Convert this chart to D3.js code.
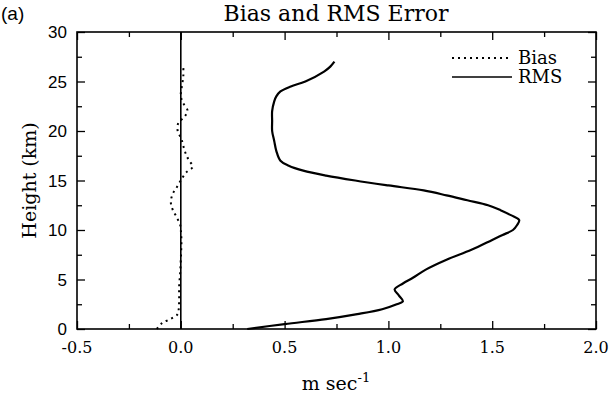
<!DOCTYPE html>
<html>
<head>
<meta charset="utf-8">
<script src="https://cdn.jsdelivr.net/npm/d3@7"></script>
<style>
  body { margin: 0; background: #fff; }
  svg { display: block; }
</style>
</head>
<body>
<div id="chart"></div>
<script>
var width = 613;
var height = 402;

// RMS error profile: height (km) and value (m/s)
var rmsHeight = [0.0, 0.5, 1.0, 1.5, 2.0, 2.5, 2.8, 3.4, 4.0, 4.6, 5.2, 6.0, 7.0, 8.0, 9.0, 9.5, 10.0, 10.5, 11.0, 11.5, 12.0, 12.5, 13.0, 13.5, 14.0, 14.5, 15.0, 15.5, 16.0, 16.5, 17.0, 18.0, 19.0, 20.0, 21.0, 22.0, 23.0, 23.5, 24.0, 24.5, 25.0, 26.0, 26.5, 27.0];
var rmsValue  = [0.32, 0.50, 0.70, 0.85, 0.97, 1.04, 1.07, 1.05, 1.03, 1.07, 1.12, 1.18, 1.28, 1.40, 1.50, 1.55, 1.60, 1.62, 1.63, 1.59, 1.54, 1.48, 1.38, 1.28, 1.17, 1.00, 0.84, 0.70, 0.59, 0.52, 0.48, 0.46, 0.45, 0.44, 0.44, 0.44, 0.45, 0.46, 0.48, 0.53, 0.60, 0.69, 0.72, 0.74];

// Bias profile
var biasHeight = [0.0, 0.6, 1.0, 1.5, 2.0, 3.0, 4.3, 5.7, 7.0, 9.0, 10.0, 10.5, 11.3, 12.1, 12.8, 13.6, 14.3, 15.0, 15.8, 16.4, 17.0, 17.7, 18.5, 19.2, 20.0, 20.8, 21.5, 22.1, 22.8, 23.5, 24.5, 25.5, 26.5];
var biasValue  = [-0.115, -0.09, -0.05, -0.015, -0.01, -0.008, -0.008, -0.003, 0.0, 0.003, 0.0, -0.003, -0.02, -0.04, -0.048, -0.04, -0.02, 0.0, 0.025, 0.058, 0.04, 0.024, 0.012, 0.003, -0.015, -0.012, 0.02, 0.032, 0.012, 0.0, 0.005, 0.012, 0.012];

var xMajor = [-0.5, 0.0, 0.5, 1.0, 1.5, 2.0];
var xMinor = [-0.25, 0.25, 0.75, 1.25, 1.75];
var yMajor = [0, 5, 10, 15, 20, 25, 30];
var yMinor = [2.5, 7.5, 12.5, 17.5, 22.5, 27.5];
var legendNames = ["Bias", "RMS"];

// plot box (note: "top" is reserved by the window object)
var pLeft = 77, pRight = 596, pTop = 32, pBottom = 329;
var serif = "'DejaVu Serif', serif";
var sans = "'Liberation Sans', Arial, sans-serif";

var svg = d3.select("#chart").append("svg")
    .attr("width", width)
    .attr("height", height);

var x = d3.scaleLinear().domain([-0.5, 2.0]).range([pLeft, pRight]);
var y = d3.scaleLinear().domain([0, 30]).range([pBottom, pTop]);

// ticks pointing inward on all four sides
function addAxis(axis, tx, ty, vals, size) {
  var g = svg.append("g")
    .attr("transform", "translate(" + tx + "," + ty + ")")
    .call(axis.tickValues(vals).tickSize(size).tickFormat(""));
  g.select(".domain").remove();
  g.selectAll("line").attr("stroke", "#000").attr("stroke-width", 1.3);
}
addAxis(d3.axisBottom(x), 0, pBottom, xMajor, -8);
addAxis(d3.axisBottom(x), 0, pBottom, xMinor, -5);
addAxis(d3.axisTop(x), 0, pTop, xMajor, -8);
addAxis(d3.axisTop(x), 0, pTop, xMinor, -5);
addAxis(d3.axisLeft(y), pLeft, 0, yMajor, -8);
addAxis(d3.axisLeft(y), pLeft, 0, yMinor, -5);
addAxis(d3.axisRight(y), pRight, 0, yMajor, -8);
addAxis(d3.axisRight(y), pRight, 0, yMinor, -5);

// frame
svg.append("rect")
  .attr("x", pLeft).attr("y", pTop)
  .attr("width", pRight - pLeft).attr("height", pBottom - pTop)
  .attr("fill", "none").attr("stroke", "#000").attr("stroke-width", 1.6);

// tick labels
svg.selectAll("text.xl").data(xMajor).enter().append("text")
  .attr("class", "xl")
  .attr("x", d => x(d))
  .attr("y", pBottom + 24)
  .attr("text-anchor", "middle")
  .style("font-family", serif).style("font-size", "16px")
  .text(d => d.toFixed(1));

svg.selectAll("text.yl").data(yMajor).enter().append("text")
  .attr("class", "yl")
  .attr("x", pLeft - 10)
  .attr("y", d => y(d) + 6)
  .attr("text-anchor", "end")
  .style("font-family", sans).style("font-size", "17px")
  .text(d => d);

// zero line
svg.append("line")
  .attr("x1", x(0)).attr("x2", x(0))
  .attr("y1", y(0)).attr("y2", y(30))
  .attr("stroke", "#000").attr("stroke-width", 1.6);

var rms = rmsHeight.map((h, i) => [rmsValue[i], h]);
var bias = biasHeight.map((h, i) => [biasValue[i], h]);

var line = d3.line()
  .x(d => x(d[0]))
  .y(d => y(d[1]))
  .curve(d3.curveCatmullRom.alpha(0.5));

svg.append("path").datum(rms)
  .attr("d", line)
  .attr("fill", "none").attr("stroke", "#000").attr("stroke-width", 2.2);

svg.append("path").datum(bias)
  .attr("d", line)
  .attr("fill", "none").attr("stroke", "#000").attr("stroke-width", 2)
  .attr("stroke-dasharray", "2,4");

// legend
var legend = svg.append("g");
legendNames.forEach(function(name, i) {
  var ly = 58 + i * 19;
  legend.append("line")
    .attr("x1", 452).attr("x2", 512)
    .attr("y1", ly).attr("y2", ly)
    .attr("stroke", "#000").attr("stroke-width", i == 0 ? 2 : 1.6)
    .attr("stroke-dasharray", i == 0 ? "2,4" : null);
  legend.append("text")
    .attr("x", 518).attr("y", ly + 6)
    .style("font-family", serif).style("font-size", "18px")
    .text(name);
});

// titles
svg.append("text")
  .attr("x", 336).attr("y", 21)
  .attr("text-anchor", "middle")
  .style("font-family", serif).style("font-size", "22px")
  .text("Bias and RMS Error");

svg.append("text")
  .attr("x", 1).attr("y", 20)
  .style("font-family", sans).style("font-size", "19px")
  .text("(a)");

var xl = svg.append("text")
  .attr("x", 336).attr("y", 390)
  .attr("text-anchor", "middle")
  .style("font-family", serif).style("font-size", "19px");
xl.append("tspan").text("m sec");
xl.append("tspan").attr("dy", -8).style("font-size", "13px").text("-1");

svg.append("text")
  .attr("transform", "translate(36," + ((pTop + pBottom) / 2) + ") rotate(-90)")
  .attr("text-anchor", "middle")
  .style("font-family", serif).style("font-size", "19px")
  .text("Height (km)");
</script>
</body>
</html>
